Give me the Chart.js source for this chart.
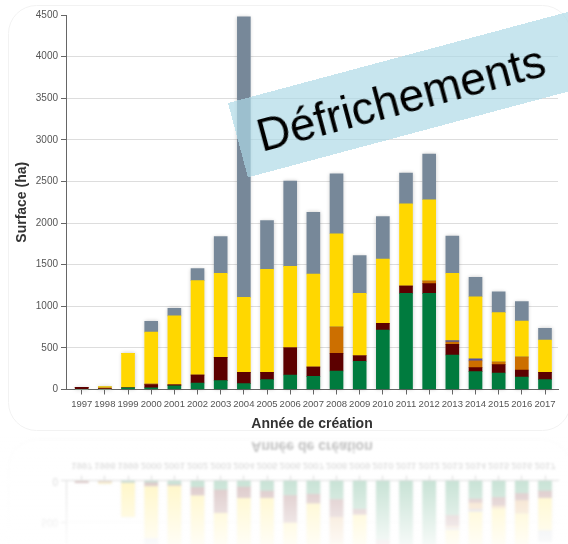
<!DOCTYPE html>
<html>
<head>
<meta charset="utf-8">
<script src="https://cdn.jsdelivr.net/npm/chart.js@4/dist/chart.umd.min.js"></script>
<style>
	body { margin: 0; background: #fff; }
	#wrap { position: relative; width: 568px; height: 544px; overflow: hidden; }
	#chart { position: absolute; left: 0; top: 0; }
	#mirror { position: absolute; left: 0; top: 435px; }
	#banner {
		position: absolute; left: 228px; top: 103px;
		width: 420px; height: 77px;
		background: rgba(173, 216, 230, 0.68);
		transform: rotate(-15deg); transform-origin: 0 0;
		font-family: "Liberation Sans", Arial, sans-serif;
	}
	#banner span {
		position: absolute; left: 20px; top: 17px;
		font-size: 46px; line-height: 46px; color: #000; white-space: nowrap;
	}
</style>
</head>
<body>
<div id="wrap">
	<canvas id="chart" width="568" height="435"></canvas>
	<canvas id="mirror" width="568" height="109"></canvas>
	<div id="banner"><span>Défrichements</span></div>
</div>
<script>
var years = ["1997","1998","1999","2000","2001","2002","2003","2004","2005","2006","2007","2008","2009","2010","2011","2012","2013","2014","2015","2016","2017"];

var greenVals   = [0, 0, 20, 20, 45, 78, 106, 70, 118, 174, 158, 222, 339, 715, 1156, 1156, 415, 214, 198, 150, 118];
var darkRedVals = [25, 12, 0, 40, 10, 96, 281, 137, 89, 328, 112, 213, 67, 81, 88, 116, 128, 48, 100, 84, 89];
var orangeVals  = [0, 5, 0, 5, 0, 0, 0, 0, 0, 0, 0, 316, 0, 0, 0, 32, 28, 81, 32, 156, 0];
var blueVals    = [0, 0, 0, 0, 0, 0, 0, 0, 0, 0, 0, 0, 0, 0, 0, 0, 16, 27, 0, 0, 0];
var yellowVals  = [0, 18, 415, 625, 830, 1134, 1010, 900, 1238, 978, 1118, 1120, 750, 772, 986, 976, 810, 745, 593, 433, 388];
var greyVals    = [0, 0, 0, 130, 90, 144, 440, 3370, 585, 1025, 742, 720, 452, 510, 370, 550, 448, 234, 252, 232, 140];

var yTicks = [0, 500, 1000, 1500, 2000, 2500, 3000, 3500, 4000, 4500];

var FONT = "'Liberation Sans', Arial, sans-serif";


function toPoints(list) {
	var pts = [];
	for (var i in list) {
		pts.push({ x: parseInt(i), y: list[i] });
	}
	return pts;
}

function makeSet(label, list, color) {
	return {
		label: label,
		data: toPoints(list),
		backgroundColor: color,
		borderWidth: 0,
		barThickness: 13
	};
}


// faint card behind the chart
var cardPlugin = {
	id: 'card',
	beforeDraw: function (chart) {
		var ctx = chart.ctx;
		ctx.save();
		ctx.strokeStyle = "#f2f2f2";
		ctx.lineWidth = 1;
		ctx.beginPath();
		ctx.roundRect(8.5, 5.5, 562, 425, 28);
		ctx.stroke();
		ctx.restore();
	}
};

// soft halo round every stacked column
var haloPlugin = {
	id: 'halo',
	beforeDatasetsDraw: function (chart) {
		var ctx = chart.ctx;
		var first = chart.getDatasetMeta(0).data;
		for (var i = 0; i < first.length; i++) {
			var top = first[i].base;
			for (var d = 0; d < chart.data.datasets.length; d++) {
				var el = chart.getDatasetMeta(d).data[i];
				if (el.y < top) top = el.y;
			}
			if (first[i].base - top < 0.5) continue;
			ctx.save();
			ctx.shadowColor = "rgba(0,0,0,0.22)";
			ctx.shadowBlur = 4;
			ctx.fillStyle = "#ffffff";
			ctx.fillRect(first[i].x - first[i].width / 2, top, first[i].width, first[i].base - top);
			ctx.restore();
		}
	}
};

// reflection of the lower part under the card
var mirrorPlugin = {
	id: 'mirror',
	afterRender: function (chart) {
		var src = chart.canvas;
		var m = document.getElementById("mirror");
		var mctx = m.getContext("2d");
		mctx.clearRect(0, 0, m.width, m.height);
		mctx.save();
		mctx.filter = "blur(1px)";
		mctx.scale(1, -1);
		mctx.drawImage(src, 0, -src.height);
		mctx.restore();
		var grad = mctx.createLinearGradient(0, 0, 0, m.height);
		grad.addColorStop(0, "rgba(255,255,255,0.66)");
		grad.addColorStop(1, "rgba(255,255,255,0.96)");
		mctx.fillStyle = grad;
		mctx.fillRect(0, 0, m.width, m.height);
	}
};


var ctx = document.getElementById("chart").getContext("2d");
new Chart(ctx, {
	type: 'bar',
	data: {
		datasets: [
			makeSet("Vert", greenVals, "#007b3e"),
			makeSet("Rouge", darkRedVals, "#5c0000"),
			makeSet("Orange", orangeVals, "#cc6f00"),
			makeSet("Bleu", blueVals, "#5252a3"),
			makeSet("Jaune", yellowVals, "#ffd700"),
			makeSet("Gris", greyVals, "#778899")
		]
	},
	options: {
		responsive: false,
		animation: false,
		layout: { padding: { left: 10, right: 10, top: 15, bottom: 0 } },
		plugins: {
			legend: { display: false },
			tooltip: { enabled: false }
		},
		scales: {
			x: {
				type: 'linear',
				stacked: true,
				offset: false,
				min: -0.678,
				max: 20.561,
				afterFit: function (s) { s.height = 45.5; },
				afterBuildTicks: function (s) {
					s.ticks = years.map(function (y, i) { return { value: i }; });
				},
				border: { display: true, color: "#666", width: 1 },
				grid: { display: true, drawOnChartArea: false, drawTicks: true, tickLength: 5, tickColor: "#666", offset: false },
				ticks: {
					autoSkip: false,
					maxRotation: 0,
					padding: 4,
					color: "#555",
					font: { family: FONT, size: 9.5 },
					callback: function (v) { return years[v]; }
				},
				title: {
					display: true,
					text: "Année de création",
					color: "#333",
					padding: { top: 0, bottom: 2 },
					font: { family: FONT, size: 14, weight: 'bold' }
				}
			},
			y: {
				stacked: true,
				min: 0,
				max: 4500,
				afterFit: function (s) { s.width = 56; },
				afterBuildTicks: function (s) {
					s.ticks = yTicks.map(function (v) { return { value: v }; });
				},
				border: { display: true, color: "#666", width: 1 },
				grid: {
					color: function (c) {
						return (c.tick && (c.tick.value === 4500 || c.tick.value === 0)) ? "rgba(0,0,0,0)" : "#dddddd";
					},
					tickColor: "#666",
					tickLength: 5
				},
				ticks: {
					padding: 3,
					color: "#555",
					font: { family: FONT, size: 10 },
					callback: function (v) { return String(v); }
				},
				title: {
					display: true,
					text: "Surface (ha)",
					color: "#333",
					padding: { top: 4, bottom: 0 },
					font: { family: FONT, size: 14, weight: 'bold' }
				}
			}
		}
	},
	plugins: [cardPlugin, haloPlugin, mirrorPlugin]
});
</script>
</body>
</html>
